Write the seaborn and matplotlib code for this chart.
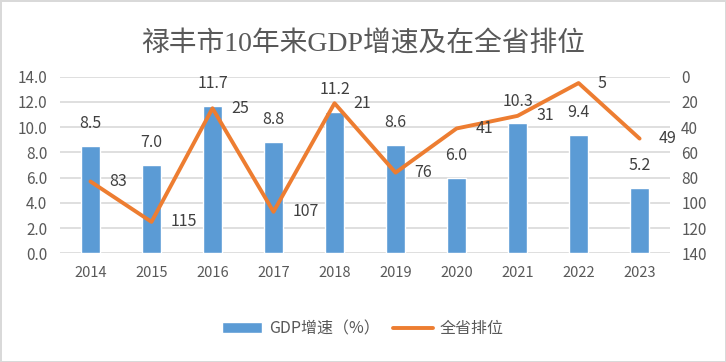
import numpy as np
import matplotlib
matplotlib.use("Agg")
import matplotlib.pyplot as plt
import pandas as pd
import seaborn as sns

years = ['2014', '2015', '2016', '2017', '2018', '2019', '2020', '2021', '2022', '2023']
gdp_growth = [8.5, 7.0, 11.7, 8.8, 11.2, 8.6, 6.0, 10.3, 9.4, 5.2]
province_rank = [83, 115, 25, 107, 21, 76, 41, 31, 5, 49]

bar_name = 'GDP增速（%）'
line_name = '全省排位'
title = '禄丰市10年来GDP增速及在全省排位'

sns.set_theme(style="white")
plt.rcParams['font.family'] = ['Noto Sans CJK SC', 'DejaVu Sans']

grey = '#595959'
blue = '#5B9BD5'
orange = '#ED7D31'

df = pd.DataFrame({'year': years, 'gdp': gdp_growth, 'rank': province_rank,
                   'pos': np.arange(len(years))})

fig = plt.figure(figsize=(7.26, 3.62), dpi=100, facecolor='white',
                 edgecolor='#D9D9D9', linewidth=2)
ax = fig.add_axes([0.0826, 0.30, 0.8404, 0.488])
ax2 = ax.twinx()

sns.barplot(data=df, x='year', y='gdp', color=blue, width=0.31, ax=ax,
            saturation=1, label=bar_name, zorder=2)
ax.set_ylim(0, 14)
ax.set_yticks(np.arange(0, 14.1, 2))
ax.set_yticklabels(['%.1f' % t for t in np.arange(0, 14.1, 2)])
ax.set_xlim(-0.5, len(years) - 0.5)
ax.grid(axis='y', color='#D9D9D9', linewidth=1.2, zorder=0)
ax.set_axisbelow(True)
ax.set_xlabel('')
ax.set_ylabel('')
for c in ax.containers:
    ax.bar_label(c, fmt='%.1f', padding=10, fontsize=11.5, color='#404040')

sns.lineplot(data=df, x='pos', y='rank', color=orange, linewidth=2.8, ax=ax2,
             label=line_name, zorder=3)
ax2.set_ylim(140, 0)
ax2.set_yticks(np.arange(0, 141, 20))
ax2.set_xlabel('')
ax2.set_ylabel('')
for i, r in enumerate(province_rank):
    ax2.annotate(str(r), (i, r), xytext=(13.5, 0), textcoords='offset points',
                 va='center', ha='left', fontsize=11.5, color='#404040')

for a in (ax, ax2):
    for s in a.spines.values():
        s.set_visible(False)
ax.tick_params(axis='y', length=0, pad=9, labelsize=11, labelcolor=grey)
ax.tick_params(axis='x', length=0, pad=9, labelsize=10.5, labelcolor=grey)
ax2.tick_params(axis='y', length=0, pad=8, labelsize=11, labelcolor=grey)

ax2.get_legend().remove()
h1, l1 = ax.get_legend_handles_labels()
h2, l2 = ax2.get_legend_handles_labels()
fig.legend(h1 + h2, l1 + l2, loc='center', bbox_to_anchor=(0.5, 0.092),
           ncol=2, frameon=False, fontsize=11.5, labelcolor=grey,
           handlelength=2.5, handleheight=0.7, columnspacing=0.8, handletextpad=0.45)
if ax.get_legend():
    ax.get_legend().remove()

fig.text(0.5, 0.878, title, ha='center', va='center', fontsize=20, color=grey,
         family=['Liberation Serif', 'Noto Sans CJK SC'])

fig.savefig('out.png', dpi=100)
